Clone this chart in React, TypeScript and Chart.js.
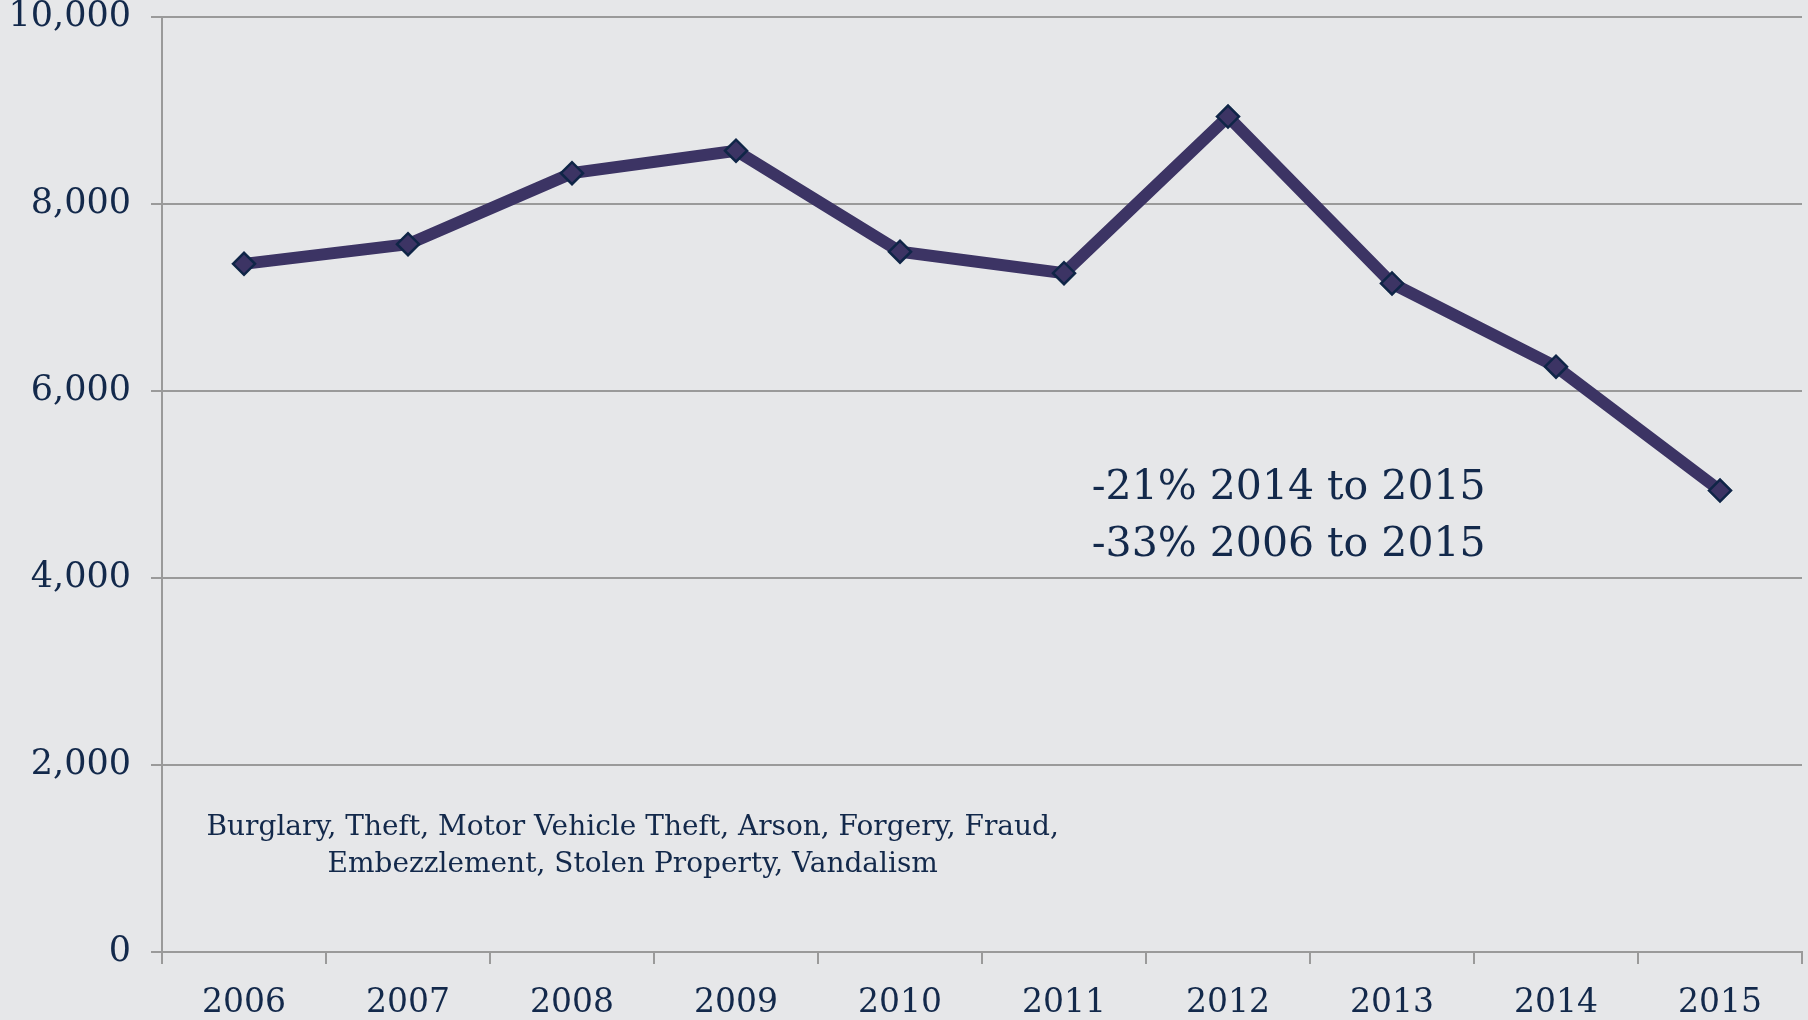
import { useEffect, useRef } from 'react';
import { Chart, registerables } from 'chart.js';

Chart.register(...registerables);

const years = ['2006', '2007', '2008', '2009', '2010', '2011', '2012', '2013', '2014', '2015'];
const offenses = [7360, 7570, 8330, 8570, 7490, 7260, 8935, 7150, 6260, 4935];
const yTickValues = [0, 2000, 4000, 6000, 8000, 10000];
const changeLines = ['-21% 2014 to 2015', '-33% 2006 to 2015'];
const noteLines = [
  'Burglary, Theft, Motor Vehicle Theft, Arson, Forgery, Fraud,',
  'Embezzlement, Stolen Property, Vandalism',
];

const BG = '#e6e7e9';
const TEXT = '#13294b';
const GRID = '#9a9a9a';
const LINE = '#3c3464';
const FONT = '"DejaVu Serif", "Liberation Serif", serif';

export default function App() {
  const ref = useRef<HTMLCanvasElement | null>(null);

  useEffect(() => {
    document.body.style.margin = '0';
    document.body.style.background = BG;
    const canvas = ref.current;
    if (!canvas) return;

    const textPlugin = {
      id: 'textPlugin',
      beforeDraw(chart: any) {
        const { ctx, width, height } = chart;
        ctx.save();
        ctx.fillStyle = BG;
        ctx.fillRect(0, 0, width, height);
        ctx.restore();
      },
      afterDraw(chart: any) {
        const { ctx, chartArea } = chart;
        const w = chartArea.right - chartArea.left;
        const h = chartArea.bottom - chartArea.top;
        ctx.save();
        ctx.fillStyle = TEXT;
        ctx.textAlign = 'center';
        ctx.textBaseline = 'middle';
        ctx.font = `41px ${FONT}`;
        const cx = chartArea.left + w * 0.687;
        changeLines.forEach((t, i) => {
          ctx.fillText(t, cx, chartArea.top + h * (0.504 + i * 0.061));
        });
        ctx.font = `28px ${FONT}`;
        const nx = chartArea.left + w * 0.287;
        noteLines.forEach((t, i) => {
          ctx.fillText(t, nx, chartArea.top + h * (0.867 + i * 0.0395));
        });
        ctx.restore();
      },
    };

    const chart = new Chart(canvas, {
      type: 'line',
      data: {
        labels: years,
        datasets: [
          {
            data: offenses,
            borderColor: LINE,
            borderWidth: 12,
            pointStyle: 'rectRot',
            pointRadius: 11,
            pointBackgroundColor: LINE,
            pointBorderColor: '#0f2547',
            pointBorderWidth: 2.5,
            tension: 0,
            fill: false,
          },
        ],
      },
      options: {
        animation: false,
        responsive: false,
        maintainAspectRatio: false,
        devicePixelRatio: 1,
        layout: { autoPadding: false, padding: { top: 17, right: 6, left: 0, bottom: 0 } },
        plugins: {
          legend: { display: false },
          tooltip: { enabled: false },
        },
        scales: {
          x: {
            offset: true,
            grid: {
              offset: true,
              drawOnChartArea: false,
              drawTicks: true,
              tickLength: 12,
              color: GRID,
              lineWidth: 2,
            },
            border: { color: GRID, width: 2 },
            ticks: {
              color: TEXT,
              font: { family: FONT, size: 33 },
              padding: 20,
              maxRotation: 0,
            },
            afterFit(scale: any) {
              scale.height = 68;
              scale.paddingLeft = 0;
              scale.paddingRight = 0;
            },
          },
          y: {
            min: 0,
            max: 10000,
            afterBuildTicks(scale: any) {
              scale.ticks = yTickValues.map((v) => ({ value: v }));
            },
            grid: {
              color: GRID,
              lineWidth: 2,
              tickLength: 11,
            },
            border: { color: GRID, width: 2 },
            ticks: {
              color: TEXT,
              font: { family: FONT, size: 35 },
              padding: 20,
              callback: (v: any) => Number(v).toLocaleString('en-US'),
            },
            afterFit(scale: any) {
              scale.width = 162;
              scale.paddingTop = 0;
              scale.paddingBottom = 0;
            },
          },
        },
      },
      plugins: [textPlugin],
    });

    return () => chart.destroy();
  }, []);

  return (
    <div style={{ width: 1808, height: 1020, background: BG }}>
      <canvas ref={ref} width={1808} height={1020} style={{ display: 'block' }} />
    </div>
  );
}
